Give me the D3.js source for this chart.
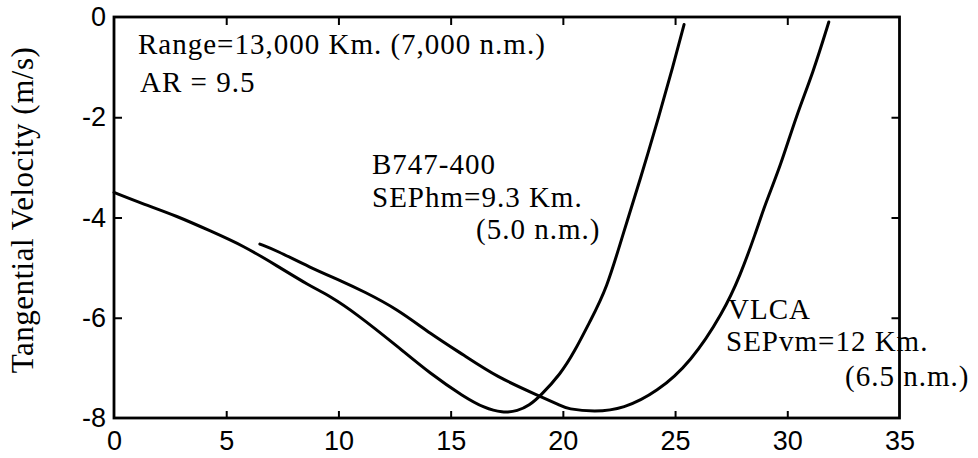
<!DOCTYPE html>
<html>
<head>
<meta charset="utf-8">
<script src="https://cdn.jsdelivr.net/npm/d3@7"></script>
<style>
  html, body { margin: 0; padding: 0; background: #fff; }
  svg { display: block; }
</style>
</head>
<body>
<svg id="chart" width="978" height="458"></svg>
<script>
// ---- data ----
const xTickValues = [0, 5, 10, 15, 20, 25, 30, 35];
const yTickValues = [0, -2, -4, -6, -8];

const b747X = [0, 1.3, 2.8, 4.3, 5.75, 7.25, 8.7, 9.6, 10.8, 12.6, 14.1, 15.6, 16.5, 17.3, 18.0, 18.5, 19.0, 19.9, 20.5, 21.2, 21.95, 22.7, 23.45, 24.3, 24.9, 25.4];
const b747Y = [-3.5, -3.73, -3.97, -4.27, -4.56, -4.96, -5.36, -5.56, -5.92, -6.56, -7.12, -7.58, -7.8, -7.9, -7.86, -7.75, -7.56, -7.12, -6.69, -6.08, -5.43, -4.3, -3.24, -1.95, -1.0, -0.15];

const vlcaX = [6.5, 7.25, 8.7, 10.2, 11.1, 12.6, 14.1, 15.6, 17.05, 18.9, 19.9, 20.2, 21.4, 22.7, 24.2, 25.7, 27.15, 27.9, 28.6, 29.0, 29.7, 30.4, 31.15, 31.85];
const vlcaY = [-4.53, -4.66, -4.99, -5.28, -5.47, -5.82, -6.32, -6.75, -7.18, -7.55, -7.75, -7.82, -7.88, -7.82, -7.48, -6.89, -5.89, -5.16, -4.3, -3.75, -2.97, -1.97, -1.11, -0.1];

const yTitle = "Tangential Velocity (m/s)";
const noteLines = ["Range=13,000 Km. (7,000 n.m.)", "AR = 9.5"];
const b747Label = ["B747-400", "SEPhm=9.3 Km.", "(5.0 n.m.)"];
const vlcaLabel = ["VLCA", "SEPvm=12 Km.", "(6.5 n.m.)"];

// ---- layout ----
const svg = d3.select("#chart");
const L = 114, R = 899.5, T = 17, B = 418;
const serif = "'Liberation Serif', 'Times New Roman', serif";
const sans = "'Liberation Sans', Arial, Helvetica, sans-serif";

const x = d3.scaleLinear().domain([0, 35]).range([L, R]);
const y = d3.scaleLinear().domain([-8, 0]).range([B, T]);

const gB = svg.append("g").attr("transform", `translate(0,${B})`)
  .call(d3.axisBottom(x).tickValues(xTickValues).tickFormat(d => String(d))
    .tickSizeInner(-7).tickSizeOuter(0).tickPadding(13));
const gT = svg.append("g").attr("transform", `translate(0,${T})`)
  .call(d3.axisTop(x).tickValues(xTickValues.slice(1, -1)).tickFormat("")
    .tickSizeInner(-8).tickSizeOuter(0));
const gL = svg.append("g").attr("transform", `translate(${L},0)`)
  .call(d3.axisLeft(y).tickValues(yTickValues).tickFormat(d => String(d))
    .tickSizeInner(-8).tickSizeOuter(0).tickPadding(8));
const gR = svg.append("g").attr("transform", `translate(${R},0)`)
  .call(d3.axisRight(y).tickValues(yTickValues.slice(1, -1)).tickFormat("")
    .tickSizeInner(-8).tickSizeOuter(0));

[gB, gT, gL, gR].forEach(g => {
  g.select(".domain").remove();
  g.selectAll(".tick line").attr("stroke", "#000").attr("stroke-width", 2);
  g.selectAll(".tick text").attr("fill", "#000")
    .style("font-family", sans).style("font-size", "27px");
});
gB.selectAll(".tick line").filter(d => d === 0 || d === 35).remove();
gL.selectAll(".tick line").filter(d => d === 0 || d === -8).remove();

svg.append("rect")
  .attr("x", L).attr("y", T).attr("width", R - L).attr("height", B - T)
  .attr("fill", "none").attr("stroke", "#000").attr("stroke-width", 2.8);

// curves
const line = d3.line().x(d => x(d[0])).y(d => y(d[1])).curve(d3.curveBasis);
const b747 = b747X.map((v, i) => [v, b747Y[i]]);
const vlca = vlcaX.map((v, i) => [v, vlcaY[i]]);
[b747, vlca].forEach(s => {
  svg.append("path").datum(s).attr("d", line)
    .attr("fill", "none").attr("stroke", "#000").attr("stroke-width", 3)
    .attr("stroke-linejoin", "round").attr("stroke-linecap", "round");
});

// y title
svg.append("text")
  .attr("transform", `translate(33,210) rotate(-90)`)
  .attr("text-anchor", "middle")
  .style("font-family", serif).style("font-size", "31px")
  .style("letter-spacing", "0.5px")
  .text(yTitle);

// annotations
function block(lines, xs, ys) {
  lines.forEach((s, i) => {
    svg.append("text").attr("x", xs[i]).attr("y", ys[i])
      .style("font-family", serif).style("font-size", "29px")
      .style("letter-spacing", "1px")
      .attr("fill", "#000").text(s);
  });
}
block(noteLines, [138, 140], [53.5, 92]);
block(b747Label, [372, 372, 476], [174, 206.5, 239]);
block(vlcaLabel, [728, 726, 845], [318.5, 351, 385.5]);
</script>
</body>
</html>
